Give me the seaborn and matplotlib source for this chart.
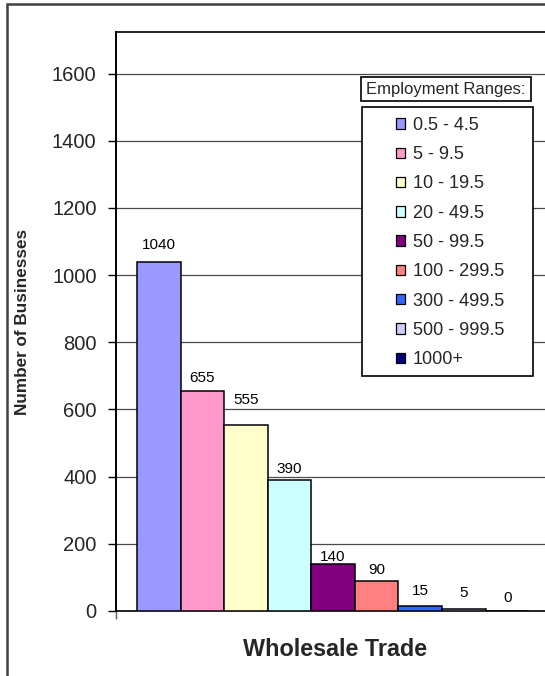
import matplotlib
matplotlib.use("Agg")
import matplotlib.pyplot as plt
from matplotlib.patches import Rectangle, Patch
import pandas as pd
import seaborn as sns

# Businesses by employment size range, wholesale trade
ranges = ["0.5 - 4.5", "5 - 9.5", "10 - 19.5", "20 - 49.5", "50 - 99.5",
          "100 - 299.5", "300 - 499.5", "500 - 999.5", "1000+"]
counts = [1040, 655, 555, 390, 140, 90, 15, 5, 0]
colors = ["#9999FF", "#FF99CC", "#FFFFCC", "#CCFFFF", "#800080",
          "#FF8080", "#3366FF", "#CCCCFF", "#000080"]
yticks = [0, 200, 400, 600, 800, 1000, 1200, 1400, 1600]
# gap between each value label's baseline and its bar top, in pixels
label_gap_px = [12.8, 9.4, 20.6, 7.5, 3.0, 6.8, 11.0, 12.0, 9.0]

sns.set_theme(style="white")
plt.rcParams["font.family"] = ["Liberation Sans", "DejaVu Sans"]

W, H = 545, 676
fig = plt.figure(figsize=(W / 100, H / 100), dpi=100)

# outer chart border: left and top edges, drawn on a full-figure overlay axes
frame_ax = fig.add_axes([0, 0, 1, 1], zorder=-1)
frame_ax.set_xlim(0, W)
frame_ax.set_ylim(H, 0)
frame_ax.axis("off")
frame_ax.plot([6.5, 6.5, W + 5], [H + 5, 3.5, 3.5], color="#404040",
              linewidth=1.8, solid_joinstyle="miter", clip_on=False)

left, right, top, bottom = 116, 550, 32, 611
ax = fig.add_axes([left / W, 1 - bottom / H, (right - left) / W, (bottom - top) / H])

df = pd.DataFrame({"range": ranges, "count": counts})
sns.barplot(data=df, x="range", y="count", hue="range", order=ranges,
            hue_order=ranges, palette=colors, saturation=1, width=1.0,
            dodge=False, edgecolor="black", linewidth=1.1, legend=False,
            ax=ax, zorder=3)

ax.set_xlim(-0.982, 8.98)
ax.set_ylim(0, 1724)
ax.set_yticks(yticks)
ax.set_yticklabels([str(v) for v in yticks], fontsize=14.5)
ax.yaxis.grid(True, color="#4a4a4a", linewidth=0.9)
ax.set_axisbelow(True)
ax.tick_params(axis="y", direction="out", length=6, width=1.0, color="black",
               pad=8, left=True)
ax.set_xticks([-0.982])
ax.set_xticklabels([""])
ax.tick_params(axis="x", direction="out", length=6, width=1.0, color="#606060",
               bottom=True)

for side in ["left", "bottom", "top"]:
    ax.spines[side].set_visible(True)
    ax.spines[side].set_color("black")
ax.spines["left"].set_linewidth(1.4)
ax.spines["bottom"].set_linewidth(1.2)
ax.spines["top"].set_linewidth(1.2)
ax.spines["right"].set_visible(False)

ax.set_ylabel("Number of Businesses", fontsize=12.3, fontweight="bold",
              labelpad=0)
ax.yaxis.set_label_coords(-86 / (right - left), 0.5)
ax.set_xlabel("")

for i, v in enumerate(counts):
    ax.annotate(str(v), (i, v), xytext=(0, label_gap_px[i] * 0.72),
                textcoords="offset points", ha="center", va="baseline",
                fontsize=11, color="black")

fig.text(335 / W, 1 - 650 / H, "Wholesale Trade", ha="center", va="center",
         fontsize=16.8, fontweight="bold")

# legend title box
fig.add_artist(Rectangle((361 / W, 1 - 101 / H), 170 / W, 24 / H,
                         transform=fig.transFigure, facecolor="white",
                         edgecolor="black", linewidth=1.2, zorder=5))
fig.text(446 / W, 1 - 89.5 / H, "Employment Ranges:", ha="center", va="center",
         fontsize=12, zorder=6)

# legend box
fig.add_artist(Rectangle((362 / W, 1 - 376 / H), 171 / W, 269 / H,
                         transform=fig.transFigure, facecolor="white",
                         edgecolor="black", linewidth=1.2, zorder=5))
handles = [Patch(facecolor=c, edgecolor="black", linewidth=0.9) for c in colors]
leg = fig.legend(handles, ranges, loc="upper left",
                 bbox_to_anchor=(386 / W, 1 - 107 / H), frameon=False,
                 fontsize=13, handlelength=0.5, handleheight=0.5,
                 handletextpad=0.45, labelspacing=0.68, borderpad=0.05)
leg.set_zorder(7)

fig.savefig("out.png", dpi=100, facecolor="white")
